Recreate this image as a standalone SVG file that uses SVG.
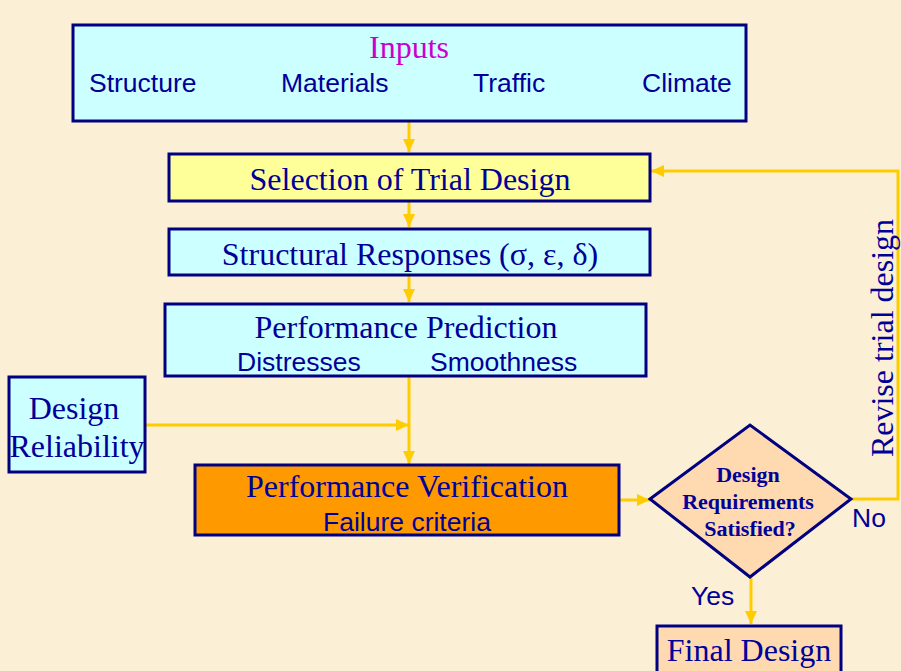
<svg xmlns="http://www.w3.org/2000/svg" width="901" height="671" viewBox="0 0 901 671">
<defs>
<style>
.box{stroke:#000080;stroke-width:3}
.cyan{fill:#ccffff}
.yel{fill:#ffff99}
.org{fill:#ff9900}
.pch{fill:#ffdab0}
.serif{font-family:"Liberation Serif","Times New Roman",serif;font-size:32px;fill:#000099}
.sans{font-family:"Liberation Sans",Arial,sans-serif;font-size:26.5px;fill:#000099}
.bold{font-family:"Liberation Serif","Times New Roman",serif;font-size:22px;font-weight:bold;fill:#000099}
.mid{text-anchor:middle}
.con{stroke:#ffcc00;stroke-width:3;fill:none}
</style>
<marker id="ah" markerUnits="userSpaceOnUse" markerWidth="14" markerHeight="12" refX="13" refY="6" orient="auto">
<path d="M0,0 L13,6 L0,12 Z" fill="#ffcc00"/>
</marker>
</defs>
<rect x="0" y="0" width="901" height="671" fill="#fbefd6"/>

<g id="connectors">
<line class="con" x1="409" y1="122" x2="409" y2="152" marker-end="url(#ah)"/>
<line class="con" x1="409" y1="202" x2="409" y2="227" marker-end="url(#ah)"/>
<line class="con" x1="409" y1="276" x2="409" y2="302" marker-end="url(#ah)"/>
<line class="con" x1="409" y1="377" x2="409" y2="464" marker-end="url(#ah)"/>
<line class="con" x1="146" y1="425" x2="409" y2="425" marker-end="url(#ah)"/>
<line class="con" x1="620" y1="500" x2="650" y2="500" marker-end="url(#ah)"/>
<polyline class="con" points="852,499 898,499 898,171 651,171" marker-end="url(#ah)"/>
<line class="con" x1="751" y1="578" x2="751" y2="624" marker-end="url(#ah)"/>
</g>

<g id="inputs">
<rect class="box cyan" x="73" y="25" width="673" height="96"/>
<text class="serif mid" x="409" y="58" style="fill:#cc00cc">Inputs</text>
<text class="sans" x="89" y="92">Structure</text>
<text class="sans" x="281" y="92">Materials</text>
<text class="sans" x="473" y="92">Traffic</text>
<text class="sans" x="642" y="92">Climate</text>
</g>

<g id="selection">
<rect class="box yel" x="169" y="154" width="481" height="47"/>
<text class="serif mid" x="410" y="190">Selection of Trial Design</text>
</g>

<g id="responses">
<rect class="box cyan" x="169" y="229" width="481" height="46"/>
<text class="serif mid" x="410" y="265">Structural Responses (σ, ε, δ)</text>
</g>

<g id="prediction">
<rect class="box cyan" x="165" y="304" width="481" height="72"/>
<text class="serif mid" x="406" y="338">Performance Prediction</text>
<text class="sans" x="237" y="371">Distresses</text>
<text class="sans" x="430" y="371">Smoothness</text>
</g>

<g id="reliability">
<rect class="box cyan" x="9" y="377" width="136" height="95"/>
<text class="serif mid" x="74" y="419">Design</text>
<text class="serif mid" x="77" y="457">Reliability</text>
</g>

<g id="verification">
<rect class="box org" x="195" y="465" width="424" height="70"/>
<text class="serif mid" x="407" y="497">Performance Verification</text>
<text class="sans mid" x="407" y="531">Failure criteria</text>
</g>

<g id="decision">
<polygon class="box pch" points="650,499 750,425 851,499 750,577"/>
<text class="bold mid" x="748" y="482">Design</text>
<text class="bold mid" x="748" y="509">Requirements</text>
<text class="bold mid" x="750" y="536">Satisfied?</text>
<text class="sans" x="852" y="527">No</text>
<text class="sans" x="691" y="605">Yes</text>
<text class="serif mid" transform="translate(893,338) rotate(-90)">Revise trial design</text>
</g>

<g id="final">
<rect class="box pch" x="657" y="626" width="184" height="50"/>
<text class="serif mid" x="749" y="661">Final Design</text>
</g>
</svg>
